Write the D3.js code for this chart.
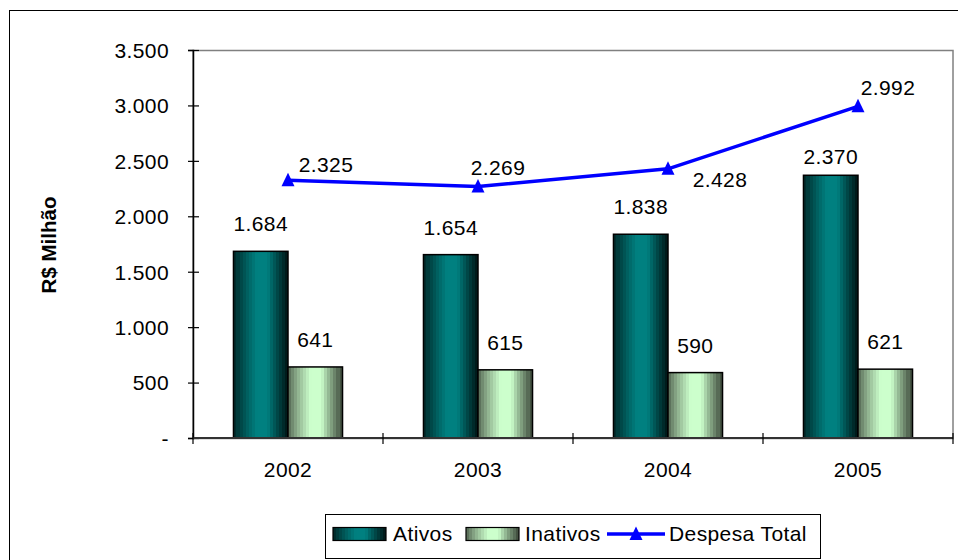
<!DOCTYPE html>
<html>
<head>
<meta charset="utf-8">
<script src="https://cdn.jsdelivr.net/npm/d3@7"></script>
<style>
  html, body { margin: 0; padding: 0; background: #fff; }
  svg { display: block; font-family: "Liberation Sans", Arial, sans-serif; }
  .t { font-size: 21px; letter-spacing: 0.4px; }
</style>
</head>
<body>
<svg id="chart" width="958" height="560"></svg>
<script>
// Despesa com pessoal (R$ milhão)
const years = ["2002", "2003", "2004", "2005"];
const ativos = [1684, 1654, 1838, 2370];
const inativos = [641, 615, 590, 621];
const despesaTotal = [2325, 2269, 2428, 2992];
const yTicks = [0, 500, 1000, 1500, 2000, 2500, 3000, 3500];
const seriesNames = ["Ativos", "Inativos", "Despesa Total"];

// hand-placed nudges for the value labels (dx, dy from the mark)
const ativosLabelDy = [-20, -20, -20, -11];
const totalLabelOffsets = [[38, -8], [20, -11], [52, 18], [30, -11]];

const svg = d3.select("#chart");
const defs = svg.append("defs");

const br = d3.formatLocale({ decimal: ",", thousands: ".", grouping: [3], currency: ["R$", ""] });
const fmt = v => v === 0 ? "-" : br.format(",d")(v);

const plot = { left: 193, right: 953, top: 50, bottom: 438 };

const x = d3.scaleBand().domain(years).range([plot.left, plot.right]).padding(0);
const groupW = x.bandwidth() * 0.574;
const xSub = d3.scaleBand().domain(["ativos", "inativos"])
  .range([(x.bandwidth() - groupW) / 2, (x.bandwidth() + groupW) / 2]).padding(0);
const y = d3.scaleLinear().domain([0, 3500]).range([plot.bottom, plot.top]);

// banded horizontal shading for the bars
function bandedGradient(id, dark, light, darkR) {
  const g = defs.append("linearGradient").attr("id", id)
    .attr("x1", "0%").attr("x2", "100%").attr("y1", "0%").attr("y2", "0%");
  const n = 18;
  for (let i = 0; i < n; i++) {
    const t = (i + 0.5) / n;
    let c;
    if (t < 0.42) {
      c = d3.interpolateRgb(dark, light)(0.12 + 0.88 * Math.pow(t / 0.42, 0.8));
    } else if (t < 0.62) {
      c = light;
    } else {
      c = d3.interpolateRgb(light, darkR)(Math.pow((t - 0.62) / 0.38, 0.9));
    }
    g.append("stop").attr("offset", (i / n * 100) + "%").attr("stop-color", c);
    g.append("stop").attr("offset", ((i + 1) / n * 100) + "%").attr("stop-color", c);
  }
}
bandedGradient("gradAtivos", "#001414", "#008080", "#001414");
bandedGradient("gradInativos", "#3e4a3c", "#ccffcc", "#3a4638");

// outer chart frame
svg.append("rect").attr("x", 9.5).attr("y", 10.5).attr("width", 970).attr("height", 570)
  .attr("fill", "#fff").attr("stroke", "#000").attr("stroke-width", 1);

// plot area frame
svg.append("rect").attr("x", plot.left).attr("y", plot.top + 0.5)
  .attr("width", plot.right - plot.left).attr("height", plot.bottom - plot.top)
  .attr("fill", "#fff").attr("stroke", "#808080").attr("stroke-width", 1.5);

// bars
const bars = svg.append("g");
years.forEach((yr, i) => {
  [["ativos", ativos[i], "url(#gradAtivos)"], ["inativos", inativos[i], "url(#gradInativos)"]]
    .forEach(([key, v, fill]) => {
      bars.append("rect")
        .attr("x", x(yr) + xSub(key))
        .attr("y", y(v))
        .attr("width", xSub.bandwidth())
        .attr("height", y(0) - y(v))
        .attr("fill", fill)
        .attr("stroke", "#000").attr("stroke-width", 1.5);
    });
});

// y axis
const yAxis = svg.append("g").attr("transform", `translate(${plot.left},0)`)
  .call(d3.axisLeft(y).tickValues(yTicks).tickFormat(fmt).tickSize(5).tickPadding(19));
yAxis.select(".domain").attr("stroke", "#000").attr("stroke-width", 1.5);
yAxis.selectAll(".tick line").attr("x1", 6).attr("stroke", "#000").attr("stroke-width", 1.2);
yAxis.selectAll(".tick text").attr("class", "t").attr("fill", "#000")
  .attr("font-family", "Liberation Sans, Arial, sans-serif").attr("dy", "0.35em");
yAxis.attr("font-size", null);

// x axis with crossing ticks at category boundaries
const xAxisG = svg.append("g").attr("transform", `translate(0,${plot.bottom})`);
xAxisG.append("line").attr("x1", plot.left).attr("x2", plot.right)
  .attr("stroke", "#333").attr("stroke-width", 1.8);
const boundaries = years.map(d => x(d)).concat([x(years[years.length - 1]) + x.step()]);
xAxisG.selectAll(".bt").data(boundaries).join("line")
  .attr("x1", d => d).attr("x2", d => d).attr("y1", -5).attr("y2", 6)
  .attr("stroke", "#000").attr("stroke-width", 1.2);
xAxisG.selectAll(".cat").data(years).join("text").attr("class", "t")
  .attr("x", d => x(d) + x.bandwidth() / 2).attr("y", 39)
  .attr("text-anchor", "middle").text(d => d);

// y axis title
svg.append("text").attr("transform", "translate(56,245) rotate(-90)")
  .attr("text-anchor", "middle").attr("font-size", 20.5).attr("font-weight", "bold")
  .text("R$ Milhão");

// total line
const cx = d => x(d) + x.bandwidth() / 2;
const line = d3.line().x((d, i) => cx(years[i])).y(d => y(d));
svg.append("path").datum(despesaTotal).attr("d", line)
  .attr("fill", "none").attr("stroke", "#0000ff").attr("stroke-width", 3.5)
  .attr("stroke-linejoin", "round");
const tri = "M0,-7.5L6.5,6L-6.5,6Z";
svg.selectAll(".mk").data(despesaTotal).join("path")
  .attr("d", tri).attr("fill", "#0000ff")
  .attr("transform", (d, i) => `translate(${cx(years[i])},${y(d)})`);

// value labels
const labels = svg.append("g").attr("text-anchor", "middle").attr("fill", "#000");
years.forEach((yr, i) => {
  labels.append("text").attr("class", "t").attr("x", x(yr) + xSub("ativos") + xSub.bandwidth() / 2)
    .attr("y", y(ativos[i]) + ativosLabelDy[i]).text(fmt(ativos[i]));
  labels.append("text").attr("class", "t").attr("x", x(yr) + xSub("inativos") + xSub.bandwidth() / 2)
    .attr("y", y(inativos[i]) - 20).text(fmt(inativos[i]));
  labels.append("text").attr("class", "t").attr("x", cx(yr) + totalLabelOffsets[i][0])
    .attr("y", y(despesaTotal[i]) + totalLabelOffsets[i][1]).text(fmt(despesaTotal[i]));
});

// legend
const lg = svg.append("g");
lg.append("rect").attr("x", 325.5).attr("y", 514.5).attr("width", 495).attr("height", 44)
  .attr("fill", "#fff").attr("stroke", "#000").attr("stroke-width", 1);
const ly = 534;
lg.append("rect").attr("x", 333).attr("y", ly - 6.5).attr("width", 53).attr("height", 13)
  .attr("fill", "url(#gradAtivos)").attr("stroke", "#000").attr("stroke-width", 1.2);
lg.append("text").attr("class", "t").attr("x", 393).attr("y", ly + 7).text(seriesNames[0]);
lg.append("rect").attr("x", 466).attr("y", ly - 6.5).attr("width", 53).attr("height", 13)
  .attr("fill", "url(#gradInativos)").attr("stroke", "#000").attr("stroke-width", 1.2);
lg.append("text").attr("class", "t").attr("x", 525).attr("y", ly + 7).text(seriesNames[1]);
lg.append("line").attr("x1", 607).attr("x2", 665).attr("y1", ly).attr("y2", ly)
  .attr("stroke", "#0000ff").attr("stroke-width", 3.5);
lg.append("path").attr("d", tri).attr("fill", "#0000ff").attr("transform", `translate(636,${ly})`);
lg.append("text").attr("class", "t").attr("x", 669).attr("y", ly + 7).text(seriesNames[2]);
</script>
</body>
</html>
